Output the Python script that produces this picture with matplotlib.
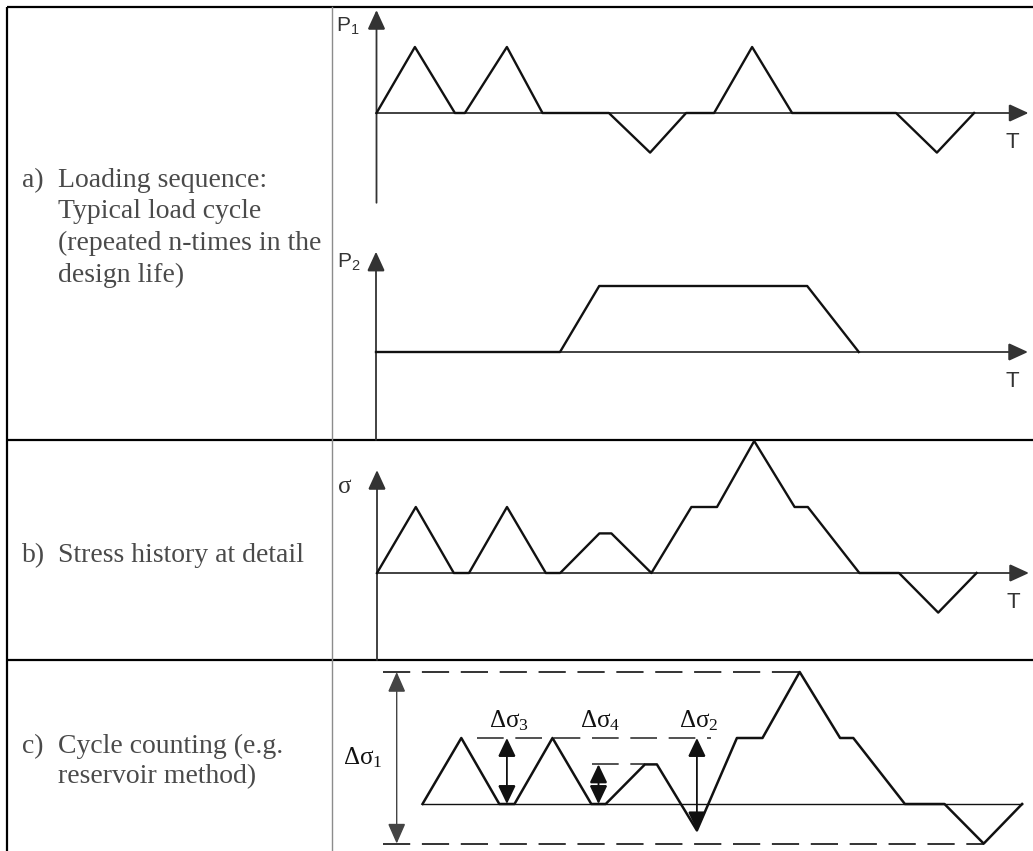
import matplotlib.pyplot as plt
from matplotlib.patches import FancyArrowPatch

plt.rcParams['mathtext.fontset'] = 'custom'
plt.rcParams['mathtext.rm'] = 'Liberation Serif'
plt.rcParams['mathtext.it'] = 'Liberation Serif'
plt.rcParams['mathtext.sf'] = 'Liberation Sans'

# --- load cycle P1 (time, load) ---
p1_t = [0, 0.96, 1.96, 2.21, 3.26, 4.15, 5.81, 6.84, 7.74, 8.44, 9.39, 10.39, 12.99, 14.01, 14.94]
p1_v = [0, 1, 0, 0, 1, 0, 0, -0.6, 0, 0, 1, 0, 0, -0.6, 0]

# --- load cycle P2 ---
p2_t = [0, 4.6, 5.58, 10.78, 12.07]
p2_v = [0, 0, 1, 1, 0]

# --- stress history at the detail ---
sig_t = [0, 0.97, 1.92, 2.3, 3.25, 4.22, 4.58, 5.56, 5.86, 6.86, 7.86, 8.5,
         9.43, 10.44, 10.77, 12.06, 13.05, 14.03, 14.99]
sig_v = [0, 1, 0, 0, 1, 0, 0, 0.6, 0.6, 0, 1, 1, 2, 1, 1, 0, 0, -0.6, 0]

# --- reservoir counting: same times, valley before the big rise goes below zero ---
cyc_v = [0, 1, 0, 0, 1, 0, 0, 0.6, 0.6, -0.4, 1, 1, 2, 1, 1, 0, 0, -0.6, 0]

# counted stress ranges
rng_labels = [r'$\Delta\sigma_3$', r'$\Delta\sigma_4$', r'$\Delta\sigma_2$']
rng_t = [2.11, 4.40, 6.86]
rng_lo = [0, 0, -0.4]
rng_hi = [1, 0.6, 1]
big_label = r'$\Delta\sigma_1$'
big_t = -0.645

T_END = 16.3

row_a = ['Loading sequence:', 'Typical load cycle', '(repeated n-times in the', 'design life)']
row_b = ['Stress history at detail']
row_c = ['Cycle counting (e.g.', 'reservoir method)']

W, H = 1033, 851
UX, UY = 40.0, 66.0
INK = '#111111'
AXC = '#333333'
TXT = '#4a4a4a'

fig = plt.figure(figsize=(W / 100, H / 100), dpi=100)

# table frame in pixel coordinates
frame = fig.add_axes([0, 0, 1, 1])
frame.set_xlim(0, W)
frame.set_ylim(H, 0)
frame.axis('off')
frame.plot([7, 7], [7, H], color='black', lw=1.6, solid_capstyle='butt')
for y in (7, 440, 660):
    frame.plot([7, W], [y, y], color='black', lw=1.6, solid_capstyle='butt')
frame.plot([332, 332], [7, H], color='#8c8c8c', lw=1.0)

serif = dict(family='Liberation Serif', fontsize=20, color=TXT, va='baseline')


def row_text(tag, lines, y0, step=31.5):
    frame.text(22, y0, tag, **serif)
    for i, s in enumerate(lines):
        frame.text(58, y0 + i * step, s, **serif)


row_text('a)', row_a, 187)
row_text('b)', row_b, 562)
row_text('c)', row_c, 753, step=30)


def panel(ox, oy, top, bottom, left=333, right=W):
    ax = fig.add_axes([left / W, 1 - bottom / H, (right - left) / W, (bottom - top) / H])
    ax.set_xlim((left - ox) / UX, (right - ox) / UX)
    ax.set_ylim((oy - bottom) / UY, (oy - top) / UY)
    ax.axis('off')
    return ax


def arrow(ax, p0, p1, style='-|>', lw=1.3, color=AXC, hl=1.2, hw=0.55):
    ax.add_patch(FancyArrowPatch(p0, p1, arrowstyle=f'{style},head_length={hl},head_width={hw}',
                                 mutation_scale=10, lw=lw, color=color, shrinkA=0, shrinkB=0,
                                 clip_on=False, joinstyle='miter'))


def axes_arrows(ax, y_lo, y_hi, label, label_off, label_kw):
    arrow(ax, (0, y_lo), (0, y_hi))
    arrow(ax, (0, 0), (T_END, 0))
    ax.annotate(label, xy=(0, y_hi), xytext=label_off, textcoords='offset pixels',
                ha='left', va='baseline', color=AXC, **label_kw)
    ax.annotate('T', xy=(T_END, 0), xytext=(-16, -30), textcoords='offset pixels',
                ha='center', va='center', family='Liberation Sans', fontsize=16, color=AXC)


sans = dict(family='Liberation Sans', fontsize=15)

# a) P1
ax1 = panel(376.5, 113, 0, 235)
axes_arrows(ax1, -1.36, 1.56, r'$\mathsf{P_1}$', (-40, -22), sans)
ax1.plot(p1_t, p1_v, color=INK, lw=1.7, clip_on=False)

# a) P2
ax2 = panel(376, 352, 240, 440)
axes_arrows(ax2, -1.33, 1.52, r'$\mathsf{P_2}$', (-39, -16), sans)
ax2.plot(p2_t, p2_v, color=INK, lw=1.7, clip_on=False)

# b) stress history
ax3 = panel(377, 573, 440, 660)
axes_arrows(ax3, -1.32, 1.56, 'σ', (-39, -23), dict(family='Liberation Serif', fontsize=18))
ax3.plot(sig_t, sig_v, color=INK, lw=1.7, clip_on=False)

# c) cycle counting
ax4 = panel(422.5, 804, 660, H)
top, bot = max(cyc_v), min(cyc_v)
dash = (0, (14, 6))
ax4.plot([0, sig_t[-1]], [0, 0], color=INK, lw=1.0)
ax4.plot([-0.99, sig_t[cyc_v.index(top)]], [top, top], color=AXC, lw=1.4, linestyle=dash)
ax4.plot([-0.99, sig_t[cyc_v.index(bot)]], [bot, bot], color=AXC, lw=1.4, linestyle=dash)
ax4.plot([1.36, 7.21], [1, 1], color=AXC, lw=1.2, linestyle=(0, (16, 7)))
ax4.plot([4.24, sig_t[7]], [0.6, 0.6], color=AXC, lw=1.2, linestyle=(0, (16, 7)))
ax4.plot(sig_t, cyc_v, color=INK, lw=1.8, clip_on=False)

arrow(ax4, (big_t, bot), (big_t, top), style='<|-|>', lw=1.0, color='#444444', hl=1.25, hw=0.55)
ax4.annotate(big_label, xy=(big_t, (top + bot) / 2), xytext=(-54, 0), textcoords='offset pixels',
             ha='left', va='center', fontsize=18, color=INK)
for lab, t, lo, hi in zip(rng_labels, rng_t, rng_lo, rng_hi):
    arrow(ax4, (t, lo), (t, hi), style='<|-|>', lw=1.3, color=INK, hl=1.15, hw=0.55)
    ax4.annotate(lab, xy=(t, 1), xytext=(2, 11), textcoords='offset pixels',
                 ha='center', va='baseline', fontsize=18, color=INK)

fig.savefig('out.png', dpi=100)
